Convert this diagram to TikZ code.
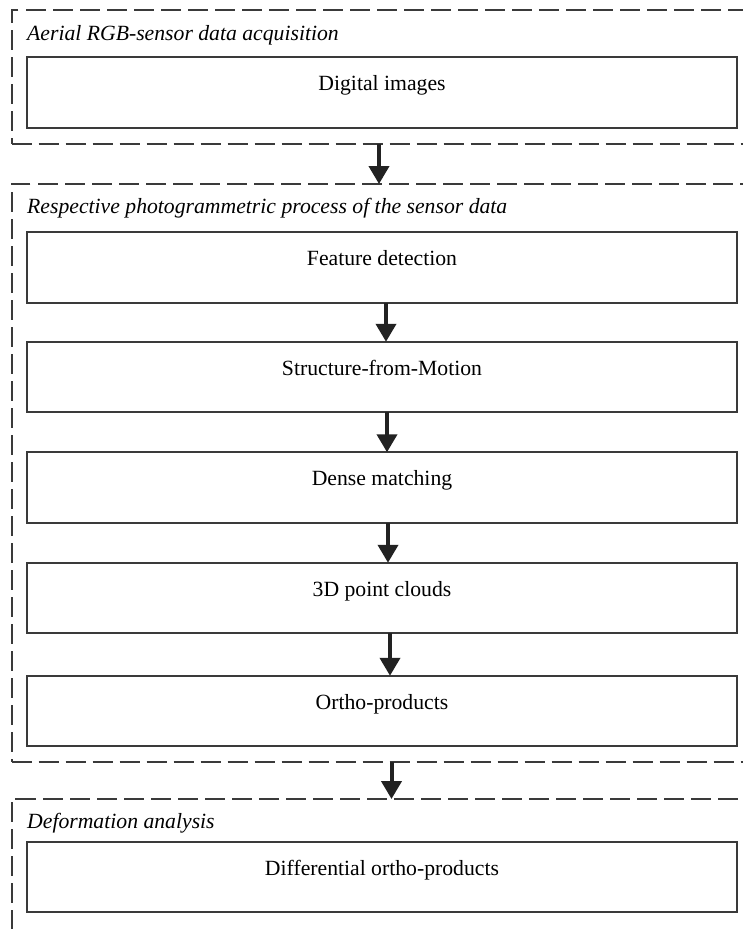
\documentclass[tikz,border=0pt]{standalone}
\usepackage{fontspec}
\setmainfont{Liberation Serif}
\usetikzlibrary{arrows.meta}
\definecolor{boxline}{HTML}{3A3A3A}
\definecolor{arrowcol}{HTML}{222222}
\tikzset{
  group/.style={draw=boxline, line width=2pt, dash pattern=on 20pt off 7pt, inner sep=0pt, outer sep=0pt},
  stepbox/.style={draw=boxline, line width=1.8pt, minimum width=710pt, minimum height=70.5pt, inner sep=0pt, outer sep=0pt,
    font=\fontsize{21.7}{26}\selectfont, text height=15pt, text depth=19pt},
  grouplabel/.style={anchor=base west, inner sep=0pt, font=\fontsize{21.7}{26}\selectfont\itshape},
  flow/.style={draw=arrowcol, line width=4pt, -{Triangle[length=18pt,width=20pt]}}
}
\begin{document}
\begin{tikzpicture}[x=1pt,y=-1pt]
\clip (0,0) rectangle (743,929);
\fill[white] (0,0) rectangle (743,929);
% group boxes
\node[group, minimum width=760pt, minimum height=134pt] (g1) at (391.5,77) {};
\node[group, minimum width=760pt, minimum height=578pt] (g2) at (391.5,473) {};
\node[group, minimum width=760pt, minimum height=151pt] (g3) at (391.5,874.5) {};
% labels
\node[grouplabel] (l1) at (27,40) {Aerial RGB-sensor data acquisition};
\node[grouplabel] (l2) at (27,213) {Respective photogrammetric process of the sensor data};
\node[grouplabel] (l3) at (27,828) {Deformation analysis};
% steps
\node[stepbox] (di) at (382,92.5) {Digital images};
\node[stepbox] (fd) at (382,267.5) {Feature detection};
\node[stepbox] (sfm) at (382,377) {Structure-from-Motion};
\node[stepbox] (dm) at (382,487.5) {Dense matching};
\node[stepbox] (pc) at (382,598) {3D point clouds};
\node[stepbox] (op) at (382,711) {Ortho-products};
\node[stepbox] (dop) at (382,877) {Differential ortho-products};
% arrows
\draw[flow] ([xshift=-12.5pt]g1.south) -- ([xshift=-12.5pt]g2.north);
\draw[flow] ([xshift=4pt]fd.south) -- ([xshift=4pt]sfm.north);
\draw[flow] ([xshift=5pt]sfm.south) -- ([xshift=5pt]dm.north);
\draw[flow] ([xshift=6pt]dm.south) -- ([xshift=6pt]pc.north);
\draw[flow] ([xshift=8pt]pc.south) -- ([xshift=8pt]op.north);
\draw[flow] ([xshift=0pt]g2.south) -- ([xshift=0pt]g3.north);
\end{tikzpicture}
\end{document}
